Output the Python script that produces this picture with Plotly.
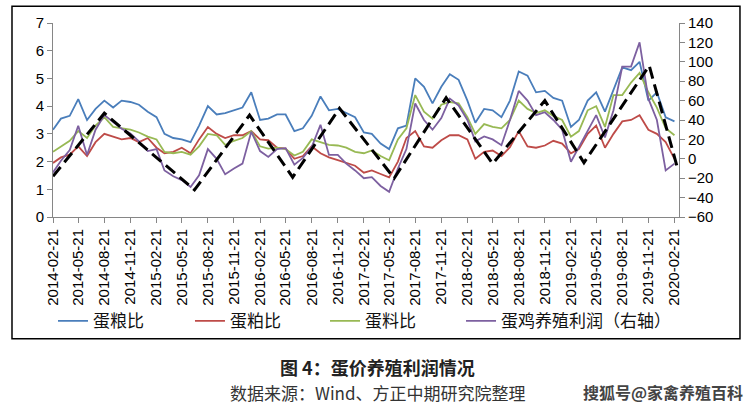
import plotly.graph_objects as go
import pandas as pd

# ---------------- data ----------------
dates = pd.date_range("2014-02-21", periods=73, freq=pd.DateOffset(months=1))

egg_grain = [3.15, 3.55, 3.65, 4.25, 3.5, 3.9, 4.2, 3.95, 4.2, 4.15,
             4.05, 3.8, 3.6, 3.0, 2.85, 2.8, 2.7, 3.3, 4.0, 3.7,
             3.75, 3.85, 3.95, 4.5, 3.5, 3.55, 3.7, 3.7, 3.1, 3.2,
             3.65, 4.35, 3.85, 3.9, 3.75, 3.6, 3.05, 3.0, 2.65, 2.45,
             3.2, 3.3, 5.0, 4.7, 4.1, 4.7, 5.15, 4.95, 4.2, 3.4,
             3.9, 3.85, 3.6, 4.2, 5.25, 5.1, 4.5, 4.55, 4.3, 4.2,
             3.25, 3.5, 4.2, 4.5, 3.8, 4.6, 5.4, 5.3, 5.6, 4.2,
             4.5, 3.6, 3.45]

egg_meal = [1.95, 2.15, 2.25, 2.55, 2.2, 2.7, 3.0, 2.9, 2.8, 2.85,
            2.7, 2.85, 2.5, 2.3, 2.35, 2.5, 2.3, 2.8, 3.25, 3.0,
            2.85, 2.95, 2.95, 3.1, 2.8, 2.77, 2.5, 2.47, 2.1, 2.2,
            2.55, 2.3, 2.15, 2.05, 1.95, 1.85, 1.6, 1.68, 1.55, 1.43,
            2.0, 2.85, 3.1, 2.55, 2.5, 2.77, 2.95, 2.95, 2.8, 2.1,
            2.35, 2.4, 2.2, 2.52, 3.1, 2.55, 2.5, 2.58, 2.75, 2.65,
            2.3, 2.45, 3.0, 3.3, 2.5, 3.0, 3.45, 3.5, 3.67, 3.15,
            3.0, 2.7, 2.1]

egg_feed = [2.35, 2.55, 2.75, 3.1, 2.85, 3.3, 3.6, 3.25, 3.2, 3.15,
            3.05, 2.9, 2.8, 2.35, 2.3, 2.35, 2.25, 2.55, 3.0, 2.95,
            2.6, 2.75, 2.85, 3.1, 2.55, 2.47, 2.5, 2.45, 2.22, 2.35,
            2.8, 2.7, 2.6, 2.58, 2.5, 2.35, 2.3, 2.4, 2.2, 2.05,
            2.8, 3.2, 4.4, 3.8, 3.55, 4.05, 4.15, 4.1, 3.6, 3.0,
            3.35, 3.25, 3.2, 3.5, 4.2, 3.9, 3.75, 3.85, 3.65, 3.5,
            2.9, 3.1, 3.85, 4.0, 3.25, 4.4, 4.4, 4.85, 5.2, 4.5,
            3.95, 3.2, 2.95]

layer_profit = [-14, -2, 9, 34, 4, 30, 45, 38, 31, 26,
                18, 8, 10, -12, -18, -22, -29, -17, 10, 0,
                -16, -10, -5, 28, 8, 2, 10, 11, -6, 1,
                12, 35, 4, 4, -5, -12, -20, -19, -28, -34,
                -10, 10, 57, 40, 30, 42, 62, 55, 40, 18,
                23, 20, 14, 40, 70, 60, 45, 48, 40, 30,
                -3, 12, 28, 45, 22, 50, 95, 95, 120, 62,
                40, -12, -5]

trend_dates = ["2014-02-21", "2014-08-21", "2015-07-05", "2016-01-15", "2016-06-15",
               "2016-11-27", "2017-06-08", "2017-12-08", "2018-05-21", "2018-11-21",
               "2019-04-08", "2019-11-24", "2020-03-05"]
trend_vals = [-18, 47, -32, 45, -19, 52, -20, 63, -5, 60, -4, 96, -12]

tick_dates = ["2014-02-21", "2014-05-21", "2014-08-21", "2014-11-21",
              "2015-02-21", "2015-05-21", "2015-08-21", "2015-11-21",
              "2016-02-21", "2016-05-21", "2016-08-21", "2016-11-21",
              "2017-02-21", "2017-05-21", "2017-08-21", "2017-11-21",
              "2018-02-21", "2018-05-21", "2018-08-21", "2018-11-21",
              "2019-02-21", "2019-05-21", "2019-08-21", "2019-11-21",
              "2020-02-21"]

names = ["蛋粮比", "蛋粕比", "蛋料比", "蛋鸡养殖利润（右轴）"]
colors = ["#4A7EBB", "#BE4B48", "#98B954", "#7D60A0"]
legend_ids = ["legend", "legend2", "legend3", "legend4"]
legend_x = [0.0, 0.2188, 0.4345, 0.6518]

# ---------------- figure ----------------
fig = go.Figure()
for vals, nm, col, lg in zip([egg_grain, egg_meal, egg_feed], names[:3], colors[:3], legend_ids[:3]):
    fig.add_trace(go.Scatter(x=dates, y=vals, name=nm, mode="lines", legend=lg,
                             line=dict(color=col, width=1.8)))
fig.add_trace(go.Scatter(x=dates, y=layer_profit, name=names[3], mode="lines", legend=legend_ids[3],
                         line=dict(color=colors[3], width=1.8), yaxis="y2"))
fig.add_trace(go.Scatter(x=trend_dates, y=trend_vals, mode="lines", showlegend=False,
                         line=dict(color="black", width=3, dash="12px,6px"), yaxis="y2"))

axis_col = "#868686"
num_font = dict(family="Liberation Sans, Arial", size=15, color="#000000")

legend_common = dict(orientation="h", y=-0.5376, xanchor="left", yanchor="middle",
                     font=dict(family="Noto Sans CJK SC", size=17, color="#111"),
                     itemwidth=30, bgcolor="rgba(0,0,0,0)")

fig.update_layout(
    width=750, height=407,
    margin=dict(l=53, r=71, t=23, b=190),
    paper_bgcolor="white", plot_bgcolor="white",
    xaxis=dict(type="date", range=["2014-02-21", "2020-03-08"],
               tickmode="array", tickvals=tick_dates, ticktext=tick_dates,
               tickangle=-90, tickfont=dict(family="Liberation Sans, Arial", size=15, color="#000"),
               showline=True, linecolor=axis_col, linewidth=1,
               ticks="outside", ticklen=5, tickcolor=axis_col, showgrid=False, zeroline=False),
    yaxis=dict(range=[0, 7], dtick=1, tickfont=num_font, showline=True, linecolor=axis_col,
               ticks="outside", ticklen=5, tickcolor=axis_col, showgrid=False, zeroline=False),
    yaxis2=dict(range=[-60, 140], dtick=20, overlaying="y", side="right", tickfont=num_font,
                showline=True, linecolor=axis_col, ticks="outside", ticklen=5,
                tickcolor=axis_col, showgrid=False, zeroline=False),
    showlegend=True,
    legend=dict(x=legend_x[0], **legend_common),
    legend2=dict(x=legend_x[1], **legend_common),
    legend3=dict(x=legend_x[2], **legend_common),
    legend4=dict(x=legend_x[3], **legend_common),
)

# outer border
fig.add_shape(type="rect", xref="paper", yref="paper",
              x0=-0.0655, x1=1.0974, y0=-0.627, y1=1.086,
              line=dict(color="black", width=1.5), fillcolor="rgba(0,0,0,0)")

fig.add_annotation(text="<b>图 4：蛋价养殖利润情况</b>", xref="paper", yref="paper",
                   x=0.519, y=-0.775, showarrow=False, xanchor="center", yanchor="middle",
                   font=dict(family="Noto Sans CJK SC", size=18, color="#222"))
fig.add_annotation(text="数据来源：Wind、方正中期研究院整理", xref="paper", yref="paper",
                   x=0.519, y=-0.904, showarrow=False, xanchor="center", yanchor="middle",
                   font=dict(family="Noto Sans CJK SC", size=17, color="#333"))
fig.add_annotation(text="<b>搜狐号@家禽养殖百科</b>", xref="paper", yref="paper",
                   x=0.974, y=-0.904, showarrow=False, xanchor="center", yanchor="middle",
                   font=dict(family="Noto Sans CJK SC", size=16, color="#444"))

fig.write_html("out.html", config={"displayModeBar": False},
               post_script="document.body.style.margin='0px';document.body.style.overflow='hidden';")
